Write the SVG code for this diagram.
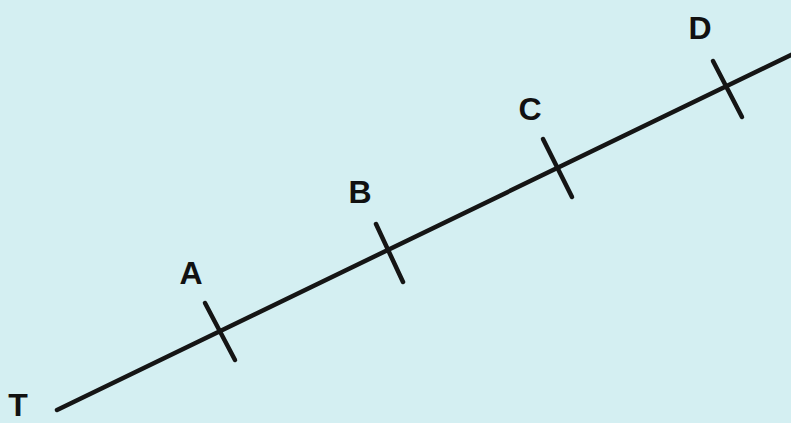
<svg xmlns="http://www.w3.org/2000/svg" width="791" height="423" viewBox="0 0 791 423">
<style>
.ln{stroke:#151515;stroke-width:4.5;stroke-linecap:round;fill:none}
.lb{font-family:"Liberation Sans",Arial,sans-serif;font-weight:bold;font-size:32px;fill:#111;text-anchor:middle}
</style>
<rect width="791" height="423" fill="#d4eff2"/>
<g id="connectors">
<line class="ln" x1="57" y1="410" x2="793" y2="54"/>
</g>
<g id="T"><text class="lb" x="18" y="416">T</text></g>
<g id="A"><line class="ln" x1="205" y1="303" x2="235" y2="360"/><text class="lb" x="191" y="284">A</text></g>
<g id="B"><line class="ln" x1="376" y1="224" x2="403" y2="282"/><text class="lb" x="360" y="203">B</text></g>
<g id="C"><line class="ln" x1="543" y1="139" x2="572" y2="197"/><text class="lb" x="530" y="120">C</text></g>
<g id="D"><line class="ln" x1="713" y1="61" x2="742" y2="117"/><text class="lb" x="700" y="39">D</text></g>
</svg>
